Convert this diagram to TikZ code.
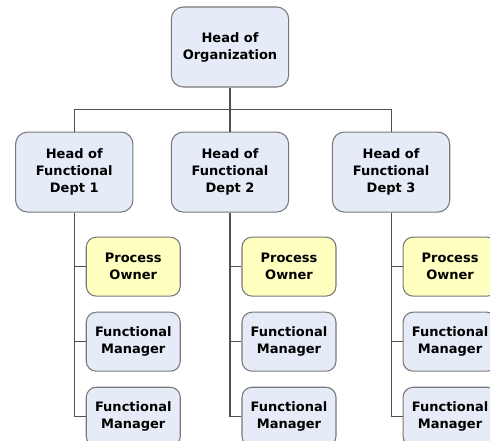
\documentclass[tikz,border=0pt]{standalone}
\usepackage{fontspec}
\setmainfont{DejaVu Sans}
\usetikzlibrary{positioning}
\definecolor{boxblue}{RGB}{230,236,247}
\definecolor{boxyellow}{RGB}{255,255,192}
\definecolor{boxline}{RGB}{120,120,120}
\definecolor{wirecol}{RGB}{80,80,80}
\tikzset{node distance=18pt, % Gap between boxes in a column
         head/.style={ % Sets the properties for each head box
           draw=boxline,
           fill=boxblue,
           line width=0.8pt,
           rounded corners=9pt,
           minimum width=88pt,
           minimum height=60pt,
           align=center,
           font=\bfseries\fontsize{9.75}{12.75}\selectfont},
         unit/.style={ % Smaller boxes below each head
           head,
           rounded corners=7.5pt,
           minimum width=70.5pt,
           minimum height=44.25pt},
         owner/.style={unit, fill=boxyellow},
         wire/.style={ % Sets the properties for each connector
           draw=wirecol,
           line width=0.8pt}}

\begin{document}
\begin{tikzpicture}
\useasboundingbox (0,0) rectangle (367.5pt,-330pt);

\node[head] (top) at (172.5pt,-35.25pt) {Head of\\Organization};
\node[head, below=33pt of top] (d2) {Head of\\Functional\\Dept 2};
\node[head, left=28pt of d2] (d1) {Head of\\Functional\\Dept 1};
\node[head, right=32pt of d2] (d3) {Head of\\Functional\\Dept 3};

\node[owner, below=18pt of d1.south, xshift=44.25pt] (po1) {Process\\Owner};
\node[unit, below=11.25pt of po1] (fm1a) {Functional\\Manager};
\node[unit, below=11.25pt of fm1a] (fm1b) {Functional\\Manager};

\node[owner, below=18pt of d2.south, xshift=44.25pt] (po2) {Process\\Owner};
\node[unit, below=11.25pt of po2] (fm2a) {Functional\\Manager};
\node[unit, below=11.25pt of fm2a] (fm2b) {Functional\\Manager};

\node[owner, below=18pt of d3.south, xshift=44.25pt] (po3) {Process\\Owner};
\node[unit, below=11.25pt of po3] (fm3a) {Functional\\Manager};
\node[unit, below=11.25pt of fm3a] (fm3b) {Functional\\Manager};

\coordinate[below=16.5pt of top.south] (bar);
\draw[wire] (top.south) -- (bar);
\draw[wire] (bar) -| (d1.north);
\draw[wire] (bar) -- (d2.north);
\draw[wire] (bar) -| (d3.north);

\draw[wire] (d1.south) |- (po1.west);
\draw[wire] (d1.south) |- (fm1a.west);
\draw[wire] (d1.south) |- (fm1b.west);

\draw[wire] (d2.south) |- (po2.west);
\draw[wire] (d2.south) |- (fm2a.west);
\draw[wire] (d2.south) |- (fm2b.west);

\draw[wire] (d3.south) |- (po3.west);
\draw[wire] (d3.south) |- (fm3a.west);
\draw[wire] (d3.south) |- (fm3b.west);

\end{tikzpicture}
\end{document}
